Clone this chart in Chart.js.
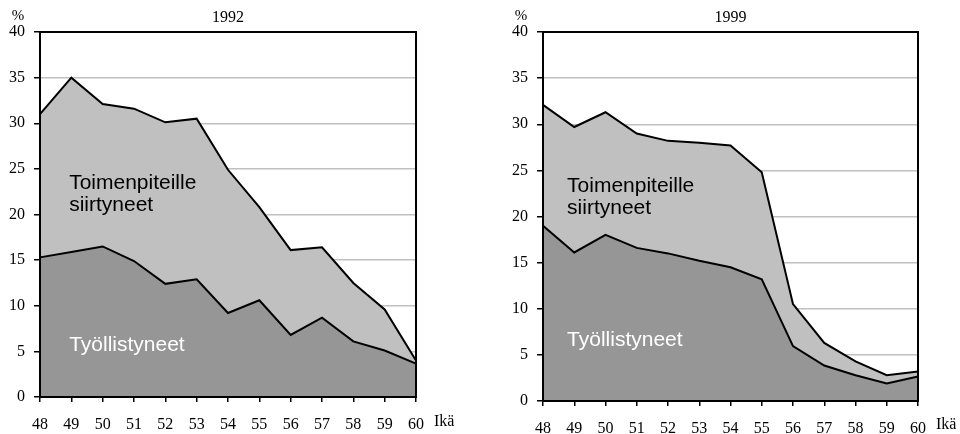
<!DOCTYPE html>
<html>
<head>
<meta charset="utf-8">
<script src="https://cdn.jsdelivr.net/npm/chart.js@4/dist/chart.umd.min.js"></script>
<style>
  html, body { margin: 0; padding: 0; background: #fff; }
  #wrap { width: 960px; height: 434px; position: relative; }
  .box { position: absolute; top: 0; width: 480px; height: 434px; }
</style>
</head>
<body>
<div id="wrap">
  <div class="box" style="left:0"><canvas id="c1" width="480" height="434"></canvas></div>
  <div class="box" style="left:480px"><canvas id="c2" width="480" height="434"></canvas></div>
</div>
<script>
// ---- Data ----
const ages = ['48','49','50','51','52','53','54','55','56','57','58','59','60'];
const yTicks = [0, 5, 10, 15, 20, 25, 30, 35, 40];
const titles = ['1992', '1999'];
const yUnit = '%';
const xUnit = 'Ikä';
const seriesNames = ['Työllistyneet', 'Toimenpiteille siirtyneet'];
const upperLabelLines = ['Toimenpiteille', 'siirtyneet'];

// Lower area (employed) and upper line (employed + moved to measures)
const employed1992 = [15.3, 15.9, 16.5, 14.9, 12.4, 12.9, 9.2, 10.6, 6.8, 8.7, 6.1, 5.1, 3.65];
const total1992    = [31.0, 35.0, 32.1, 31.6, 30.1, 30.5, 24.9, 20.8, 16.1, 16.4, 12.5, 9.6, 4.0];
const employed1999 = [19.0, 16.1, 18.0, 16.6, 16.0, 15.2, 14.5, 13.2, 5.95, 3.85, 2.8, 1.9, 2.65];
const total1999    = [32.1, 29.7, 31.3, 29.0, 28.2, 28.0, 27.7, 24.8, 10.5, 6.3, 4.3, 2.8, 3.2];

const DARK = '#969696', LIGHT = '#c0c0c0';

function makeChart(id, title, employed, total, geom) {
  const textPlugin = {
    id: 'texts',
    afterDraw(chart) {
      const ctx = chart.ctx, a = chart.chartArea;
      const xs = chart.scales.x, ys = chart.scales.y;
      ctx.save();
      // frame
      ctx.strokeStyle = '#000';
      ctx.lineWidth = 2;
      ctx.strokeRect(a.left, a.top, a.right - a.left, a.bottom - a.top);
      // title
      ctx.fillStyle = '#000';
      ctx.font = '16px "Liberation Serif", serif';
      ctx.textAlign = 'center';
      ctx.textBaseline = 'middle';
      ctx.fillText(title, (a.left + a.right) / 2, 18);
      // % unit
      ctx.font = '15px "Liberation Serif", serif';
      ctx.fillText(yUnit, a.left - 22, 16);
      // Ikä
      ctx.font = '16px "Liberation Serif", serif';
      ctx.textAlign = 'left';
      ctx.fillText(xUnit, a.right + 18, a.bottom + geom.xUnitDy);
      // in-chart labels
      const px = xs.left + (xs.getPixelForValue(1) - xs.getPixelForValue(0)) * geom.labelXFrac;
      ctx.font = '21px "Liberation Sans", Arial, sans-serif';
      ctx.fillStyle = '#000';
      ctx.fillText(upperLabelLines[0], px, ys.getPixelForValue(geom.upperY1));
      ctx.fillText(upperLabelLines[1], px, ys.getPixelForValue(geom.upperY2));
      ctx.fillStyle = '#fff';
      ctx.fillText(seriesNames[0], px, ys.getPixelForValue(geom.lowerY));
      ctx.restore();
    }
  };
  return new Chart(document.getElementById(id), {
    type: 'line',
    data: {
      labels: ages,
      datasets: [
        { label: seriesNames[0], data: employed, fill: 'origin', backgroundColor: DARK,
          borderColor: '#000', borderWidth: 2, pointRadius: 0, tension: 0 },
        { label: seriesNames[1], data: total, fill: '-1', backgroundColor: LIGHT,
          borderColor: '#000', borderWidth: 2, pointRadius: 0, tension: 0 }
      ]
    },
    options: {
      responsive: false,
      animation: false,
      layout: { padding: { top: geom.top, right: geom.right, left: 0, bottom: 0 } },
      plugins: { legend: { display: false }, tooltip: { enabled: false } },
      scales: {
        x: {
          type: 'category', offset: false,
          grid: { drawOnChartArea: false, drawTicks: true, tickLength: 5, tickColor: '#000', lineWidth: 1.5 },
          border: { display: true, color: '#000', width: 2 },
          ticks: { color: '#000', font: { family: '"Liberation Serif", serif', size: 16 }, padding: geom.xPad, maxRotation: 0, autoSkip: false },
          afterFit: s => { s.height = geom.xH; }
        },
        y: {
          min: 0, max: 40,
          afterBuildTicks: s => { s.ticks = yTicks.map(v => ({ value: v })); },
          grid: { color: LIGHT, lineWidth: 1.5, drawTicks: true, tickLength: 6, tickColor: '#000' },
          border: { display: true, color: '#000', width: 2 },
          ticks: { color: '#000', font: { family: '"Liberation Serif", serif', size: 16 }, padding: 9 },
          afterFit: s => { s.width = geom.yW; }
        }
      }
    },
    plugins: [textPlugin]
  });
}

makeChart('c1', titles[0], employed1992, total1992,
  { top: 32, right: 64, yW: 40, xH: 37, xPad: 13, xUnitDy: 25,
    labelXFrac: 0.93, upperY1: 23.45, upperY2: 21.0, lowerY: 5.7 });
makeChart('c2', titles[1], employed1999, total1999,
  { top: 32, right: 42, yW: 63, xH: 33, xPad: 13, xUnitDy: 24,
    labelXFrac: 0.77, upperY1: 23.3, upperY2: 20.9, lowerY: 6.6 });
</script>
</body>
</html>
